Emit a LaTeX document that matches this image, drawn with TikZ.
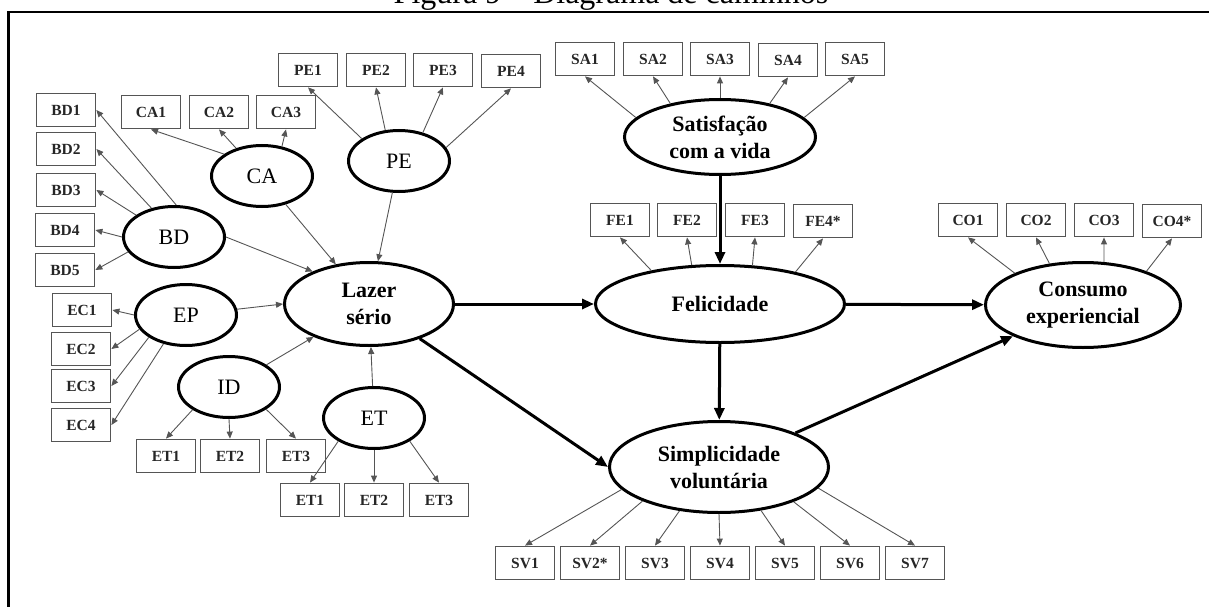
\documentclass[tikz,border=0pt]{standalone}
\usepackage{fontspec}
\setmainfont{Liberation Serif}
\usetikzlibrary{shapes.geometric,arrows.meta}
\definecolor{linegray}{HTML}{555555}
\tikzset{
  indic/.style={draw=linegray,line width=1.3pt,minimum width=59.5pt,minimum height=33.5pt,
    inner sep=0pt,text=black!85,font=\fontsize{15.5}{18}\selectfont\bfseries},
  latent/.style={ellipse,draw,line width=3pt,inner sep=0pt,minimum width=101pt,
    minimum height=61pt,font=\fontsize{22}{26}\selectfont},
  construct/.style={ellipse,draw,line width=3pt,inner sep=0pt,align=center,
    font=\fontsize{22}{27}\selectfont\bfseries},
  loading/.style={draw=linegray,line width=0.9pt,-{Triangle[length=7pt,width=6pt]}},
  effect/.style={line width=3pt,-{Triangle[length=12pt,width=10pt]}}
}
\begin{document}
\begin{tikzpicture}[x=1pt,y=-1pt]
  \useasboundingbox (0,0) rectangle (1209,607);
  \clip (0,0) rectangle (1209,607);
  % title and frame
  \node[anchor=base,font=\fontsize{32}{36}\selectfont] (title) at (611,4) {Figura 9 -- Diagrama de caminhos};
  \draw[line width=2.2pt] (8.5,12) rectangle (1230,630);
  % constructs
  \node[construct,minimum width=169pt,minimum height=83pt] (Lazer) at (369,304) {Lazer\\sério};
  \node[construct,minimum width=191pt,minimum height=75pt] (Satisf) at (720,137) {Satisfação\\com a vida};
  \node[construct,minimum width=249pt,minimum height=77pt] (Felic) at (720,304) {Felicidade};
  \node[construct,minimum width=195pt,minimum height=85pt] (Consumo) at (1083,305) {Consumo\\experiencial};
  \node[construct,minimum width=219pt,minimum height=91pt] (Simpl) at (719,467) {Simplicidade\\voluntária};
  % dimensions of lazer serio
  \node[latent] (CA) at (262,176) {CA};
  \node[latent] (PE) at (399,161) {PE};
  \node[latent] (BD) at (174,237) {BD};
  \node[latent] (EP) at (186,315) {EP};
  \node[latent] (ID) at (229,387) {ID};
  \node[latent] (ET) at (374,418) {ET};
  % indicators
  \node[indic] (PE1) at (308,70) {PE1};
  \node[indic] (PE2) at (376,70) {PE2};
  \node[indic] (PE3) at (443,70) {PE3};
  \node[indic] (PE4) at (511,71) {PE4};
  \node[indic] (CA1) at (151,112) {CA1};
  \node[indic] (CA2) at (219,112) {CA2};
  \node[indic] (CA3) at (286,112) {CA3};
  \node[indic] (BD1) at (66,110) {BD1};
  \node[indic] (BD2) at (66,149) {BD2};
  \node[indic] (BD3) at (66,190) {BD3};
  \node[indic] (BD4) at (65,230) {BD4};
  \node[indic] (BD5) at (65,270) {BD5};
  \node[indic] (EC1) at (82,310) {EC1};
  \node[indic] (EC2) at (81,349) {EC2};
  \node[indic] (EC3) at (81,386) {EC3};
  \node[indic] (EC4) at (81,425) {EC4};
  \node[indic] (ID1) at (166,456) {ET1};
  \node[indic] (ID2) at (230,456) {ET2};
  \node[indic] (ID3) at (296,456) {ET3};
  \node[indic] (ET1) at (310,500) {ET1};
  \node[indic] (ET2) at (374,500) {ET2};
  \node[indic] (ET3) at (439,500) {ET3};
  \node[indic] (SA1) at (585,59) {SA1};
  \node[indic] (SA2) at (653,59) {SA2};
  \node[indic] (SA3) at (720,59) {SA3};
  \node[indic] (SA4) at (788,60) {SA4};
  \node[indic] (SA5) at (855,59) {SA5};
  \node[indic] (FE1) at (620,220) {FE1};
  \node[indic] (FE2) at (687,220) {FE2};
  \node[indic] (FE3) at (755,220) {FE3};
  \node[indic] (FE4) at (823,221) {FE4*};
  \node[indic] (CO1) at (968,220) {CO1};
  \node[indic] (CO2) at (1036,220) {CO2};
  \node[indic] (CO3) at (1104,220) {CO3};
  \node[indic] (CO4) at (1172,221) {CO4*};
  \node[indic] (SV1) at (525,563) {SV1};
  \node[indic] (SV2) at (590,563) {SV2*};
  \node[indic] (SV3) at (655,563) {SV3};
  \node[indic] (SV4) at (720,563) {SV4};
  \node[indic] (SV5) at (785,563) {SV5};
  \node[indic] (SV6) at (850,563) {SV6};
  \node[indic] (SV7) at (915,563) {SV7};
  % loadings
  \draw[loading] (CA.150) -- (CA1.south);
  \draw[loading] (CA.133) -- (CA2.south);
  \draw[loading] (CA.56) -- (CA3.south);
  \draw[loading] (PE.149) -- (PE1.south);
  \draw[loading] (PE.114) -- (PE2.south);
  \draw[loading] (PE.50) -- (PE3.south);
  \draw[loading] (PE.16) -- (PE4.south);
  \draw[loading] (BD.86) -- (BD1.east);
  \draw[loading] (BD.128) -- (BD2.east);
  \draw[loading] (BD.150) -- (BD3.east);
  \draw[loading] (BD.180) -- (BD4.east);
  \draw[loading] (BD.198) -- (BD5.east);
  \draw[loading] (EP.180) -- (EC1.east);
  \draw[loading] (EP.197) -- (EC2.east);
  \draw[loading] (EP.211) -- (EC3.east);
  \draw[loading] (EP.232) -- (EC4.east);
  \draw[loading] (ID.212) -- (ID1.north);
  \draw[loading] (ID.270) -- (ID2.north);
  \draw[loading] (ID.329) -- (ID3.north);
  \draw[loading] (ET.213) -- (ET1.north);
  \draw[loading] (ET.270) -- (ET2.north);
  \draw[loading] (ET.327) -- (ET3.north);
  \draw[loading] (Satisf.167) -- (SA1.south);
  \draw[loading] (Satisf.146) -- (SA2.south);
  \draw[loading] (Satisf.90) -- (SA3.south);
  \draw[loading] (Satisf.34) -- (SA4.south);
  \draw[loading] (Satisf.13) -- (SA5.south);
  \draw[loading] (Felic.154) -- (FE1.south);
  \draw[loading] (Felic.126) -- (FE2.south);
  \draw[loading] (Felic.50) -- (FE3.south);
  \draw[loading] (Felic.23) -- (FE4.south);
  \draw[loading] (Consumo.155) -- (CO1.south);
  \draw[loading] (Consumo.129) -- (CO2.south);
  \draw[loading] (Consumo.64) -- (CO3.south);
  \draw[loading] (Consumo.28) -- (CO4.south);
  \draw[loading] (Simpl.193) -- (SV1.north);
  \draw[loading] (Simpl.204) -- (SV2.north);
  \draw[loading] (Simpl.228) -- (SV3.north);
  \draw[loading] (Simpl.270) -- (SV4.north);
  \draw[loading] (Simpl.314) -- (SV5.north);
  \draw[loading] (Simpl.335) -- (SV6.north);
  \draw[loading] (Simpl.348) -- (SV7.north);
  % paths to lazer serio
  \draw[loading] (CA) -- (Lazer);
  \draw[loading] (PE) -- (Lazer);
  \draw[loading] (BD.east) -- (Lazer.150);
  \draw[loading] (EP) -- (Lazer.west);
  \draw[loading] (ID) -- (Lazer);
  \draw[loading] (ET) -- (Lazer);
  % structural paths
  \draw[effect] (Lazer) -- (Felic);
  \draw[effect] (Lazer) -- (Simpl.west);
  \draw[effect] (Satisf) -- (Felic);
  \draw[effect] (Felic) -- (Simpl);
  \draw[effect] (Felic) -- (Consumo);
  \draw[effect] (Simpl) -- (Consumo);
\end{tikzpicture}
\end{document}
